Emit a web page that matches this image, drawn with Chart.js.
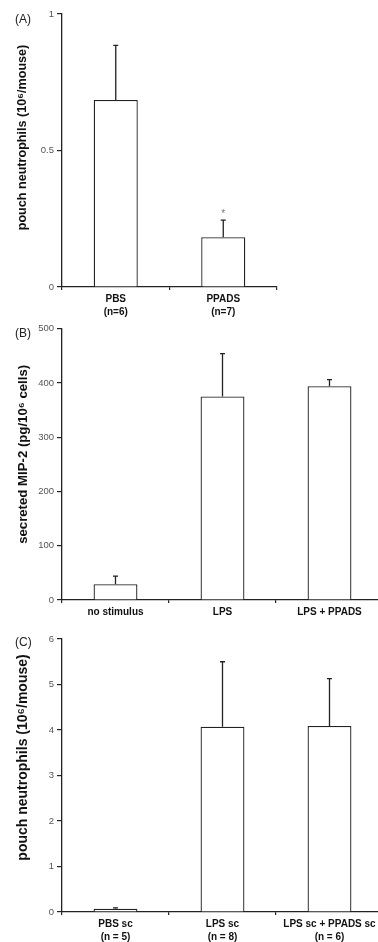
<!DOCTYPE html>
<html><head><meta charset="utf-8">
<script src="https://cdn.jsdelivr.net/npm/chart.js@4.4.1/dist/chart.umd.min.js"></script>
<style>
html,body{margin:0;padding:0;overflow:hidden;background:#fff;width:378px;height:942px;position:relative}
.wrap{position:absolute;left:0}
.wrap canvas{display:block}
.pl{position:absolute;left:15px;font:12px "Liberation Sans",Arial,sans-serif;line-height:12px;color:#222;white-space:nowrap}
</style></head><body>
<div class="wrap" style="top:0px"><canvas id="cA" width="378" height="320"></canvas></div>
<div class="wrap" style="top:320px"><canvas id="cB" width="400" height="310"></canvas></div>
<div class="wrap" style="top:630px"><canvas id="cC" width="400" height="312"></canvas></div>
<div class="pl" style="top:13px">(A)</div>
<div class="pl" style="top:327px">(B)</div>
<div class="pl" style="top:636px">(C)</div>
<script>
// ---- Panel A ----
const labelsA = [["PBS", "(n=6)"], ["PPADS", "(n=7)"]];
const valuesA = [0.685, 0.182];
const errorsA = [0.20, 0.063];
const signifA = [false, true];
const ticksA = {min: 0, max: 1, step: 0.5};
const titleA = "pouch neutrophils (10\u2076/mouse)";

// ---- Panel B ----
const labelsB = ["no stimulus", "LPS", "LPS + PPADS"];
const valuesB = [29, 375, 394];
const errorsB = [15, 79, 12];
const signifB = [false, false, false];
const ticksB = {min: 0, max: 500, step: 100};
const titleB = "secreted MIP-2 (pg/10\u2076 cells)";

// ---- Panel C ----
const labelsC = [["PBS sc", "(n = 5)"], ["LPS sc", "(n = 8)"], ["LPS sc + PPADS sc", "(n = 6)"]];
const valuesC = [0.07, 4.07, 4.09];
const errorsC = [0.02, 1.43, 1.04];
const signifC = [false, false, false];
const ticksC = {min: 0, max: 6, step: 1};
const titleC = "pouch neutrophils (10\u2076/mouse)";

const FONT = '"Liberation Sans", Arial, Helvetica, sans-serif';
const INK = '#222';

const errorBarPlugin = {
  id: 'errorBars',
  afterDatasetsDraw(chart, args, opts) {
    const ctx = chart.ctx;
    const meta = chart.getDatasetMeta(0);
    const ys = chart.scales.y;
    ctx.save();
    ctx.strokeStyle = INK;
    ctx.lineWidth = 1.3;
    meta.data.forEach((bar, i) => {
      const v = opts.values[i], e = opts.errors[i];
      const x = bar.x;
      const yb = ys.getPixelForValue(v);
      const yt = ys.getPixelForValue(v + e);
      ctx.beginPath();
      ctx.moveTo(x, yb); ctx.lineTo(x, yt);
      ctx.moveTo(x - 2.5, yt); ctx.lineTo(x + 2.5, yt);
      ctx.stroke();
      if (opts.signif[i]) {
        ctx.fillStyle = '#777';
        ctx.font = '10px ' + FONT;
        ctx.textAlign = 'center';
        ctx.textBaseline = 'bottom';
        ctx.fillText('*', x, yt - 1);
      }
    });
    ctx.restore();
  }
};

// y-axis title drawn rotated beside the axis
const yTitlePlugin = {
  id: 'yTitle',
  afterDraw(chart, args, opts) {
    const ctx = chart.ctx;
    const a = chart.chartArea;
    ctx.save();
    ctx.translate(opts.x, (a.top + a.bottom) / 2 + opts.shift);
    ctx.rotate(-Math.PI / 2);
    ctx.fillStyle = '#111';
    ctx.font = 'bold ' + opts.size + 'px ' + FONT;
    ctx.textAlign = 'center';
    ctx.textBaseline = 'middle';
    ctx.fillText(opts.text, 0, 0);
    ctx.restore();
  }
};

function makeChart(id, labels, values, errors, signif, tk, title, tsize, tshift, pad, yw, xh) {
  return new Chart(document.getElementById(id), {
    type: 'bar',
    data: {
      labels: labels,
      datasets: [{
        data: values,
        backgroundColor: '#ffffff',
        borderColor: INK,
        borderWidth: 1.3,
        categoryPercentage: 1,
        barPercentage: 0.41
      }]
    },
    plugins: [errorBarPlugin, yTitlePlugin],
    options: {
      responsive: false,
      animation: false,
      devicePixelRatio: 1,
      layout: {autoPadding: false, padding: pad},
      plugins: {
        legend: {display: false},
        tooltip: {enabled: false},
        errorBars: {values: values, errors: errors, signif: signif},
        yTitle: {text: title, size: tsize, shift: tshift, x: 23}
      },
      scales: {
        x: {
          type: 'category',
          offset: true,
          afterFit(s) { s.height = xh; },
          grid: {display: true, offset: true, drawOnChartArea: false, drawTicks: true, tickLength: 3, color: INK, lineWidth: 1.2},
          border: {display: true, color: INK, width: 1.3},
          ticks: {color: '#111', font: {family: FONT, size: 10, weight: 'bold', lineHeight: 1.25}, padding: 3, maxRotation: 0, autoSkip: false}
        },
        y: {
          min: tk.min, max: tk.max,
          afterFit(s) { s.width = yw; },
          grid: {display: true, drawOnChartArea: false, drawTicks: true, tickLength: 5, color: INK, lineWidth: 1.2},
          border: {display: true, color: INK, width: 1.3},
          ticks: {stepSize: tk.step, color: '#555', font: {family: FONT, size: 9.5}, padding: 3,
                  callback: (v) => String(Number(v))},
          title: {display: false}
        }
      }
    }
  });
}

// A: chart area 62..277 x 14..287
makeChart('cA', labelsA, valuesA, errorsA, signifA, ticksA, titleA, 12.6, -13, {top: 14, left: 0, right: 101, bottom: 0}, 62, 33);
// B: chart area 62..383 x 328..600 (canvas top 320)
makeChart('cB', labelsB, valuesB, errorsB, signifB, ticksB, titleB, 13.2, -10, {top: 8, left: 0, right: 17, bottom: 0}, 62, 30);
// C: chart area 62..383 x 639..912 (canvas top 630)
makeChart('cC', labelsC, valuesC, errorsC, signifC, ticksC, titleC, 14.0, -18, {top: 9, left: 0, right: 17, bottom: 0}, 62, 30);
</script>
</body></html>
